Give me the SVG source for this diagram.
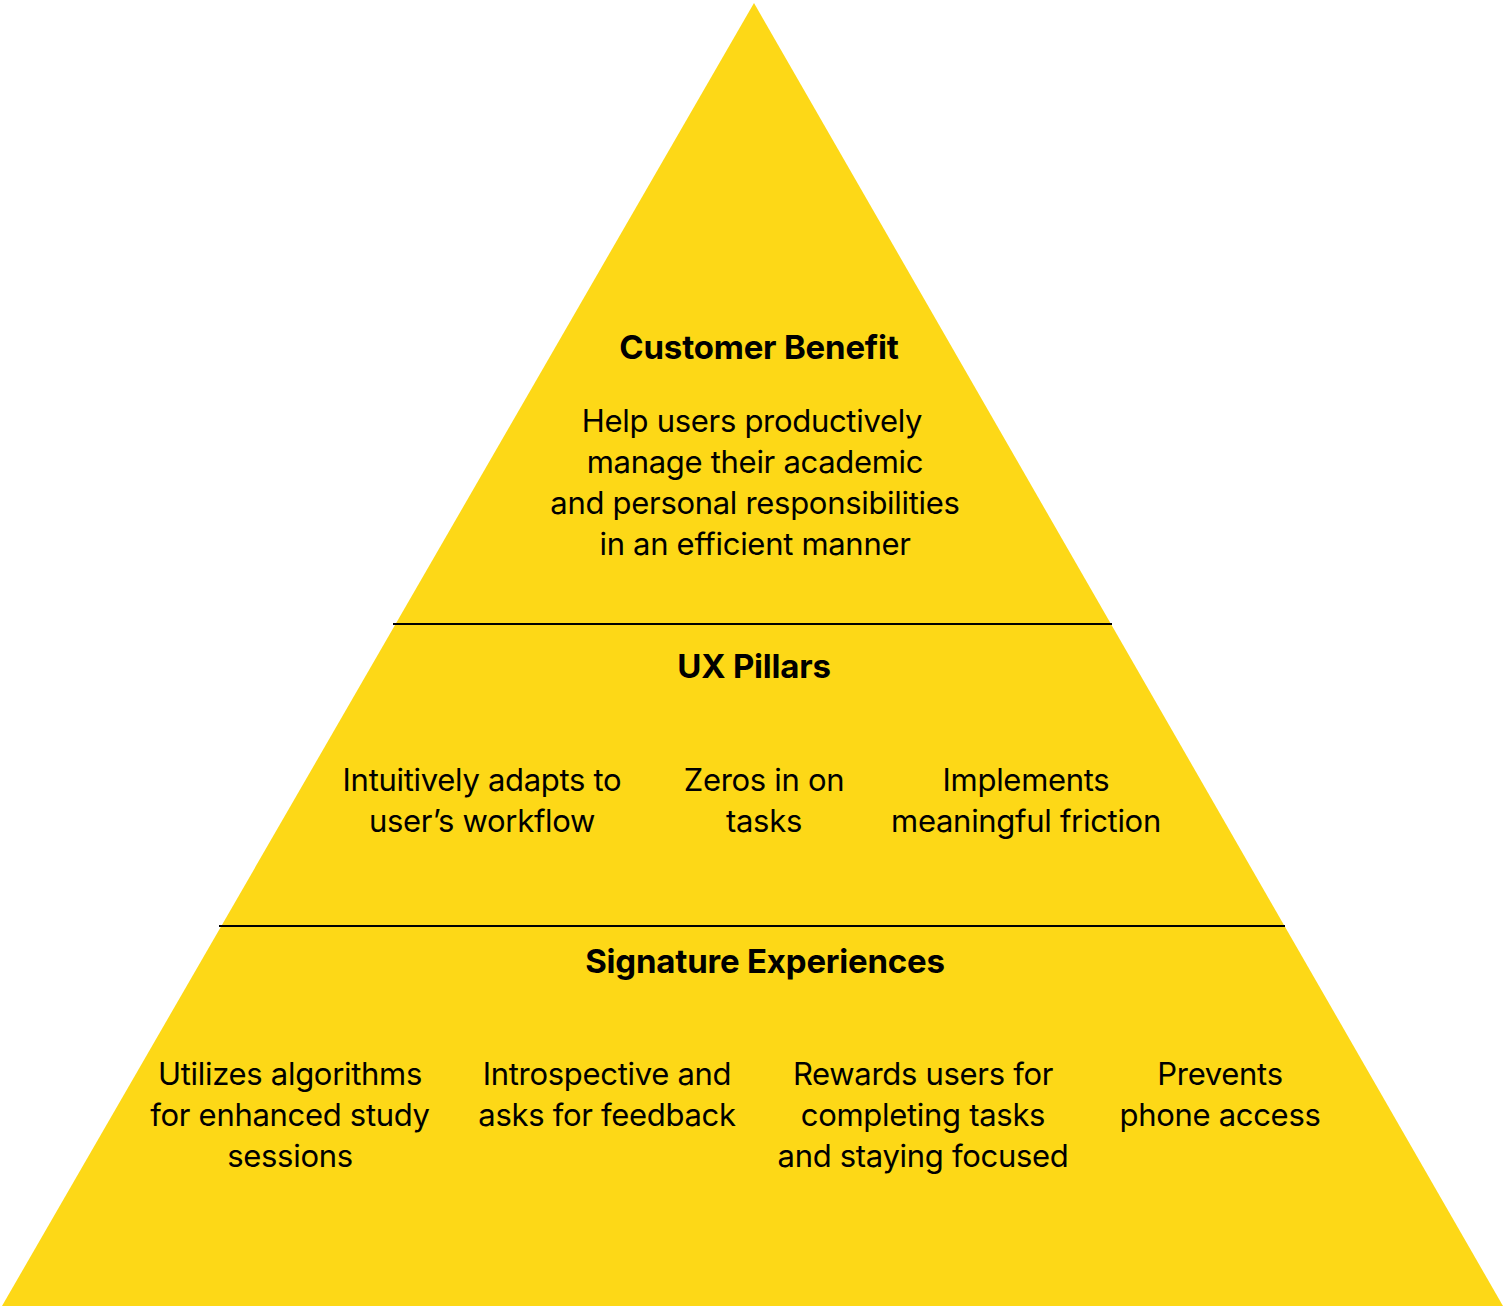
<svg xmlns="http://www.w3.org/2000/svg" width="1503" height="1306" viewBox="0 0 1503 1306">
<style>
.t{font-family:Inter,"Noto Sans",sans-serif;font-size:31px;fill:#000;text-anchor:middle;letter-spacing:-0.3px}
.h{font-family:Inter,"Noto Sans",sans-serif;font-size:33px;font-weight:700;fill:#000;text-anchor:middle;letter-spacing:-0.2px}
.sep{stroke:#000;stroke-width:2}
</style>
<rect width="1503" height="1306" fill="#fff"/>
<g id="pyramid"><polygon points="754,3 2,1306 1503,1306" fill="#FDD817"/></g>
<g id="connectors">
<line class="sep" x1="393" y1="624" x2="1112" y2="624"/>
<line class="sep" x1="219" y1="926" x2="1285" y2="926"/>
</g>
<g id="customer-benefit">
<text class="h" x="759" y="359">Customer Benefit</text>
<text class="t" x="752" y="432">Help users productively</text>
<text class="t" x="755" y="473">manage their academic</text>
<text class="t" x="755" y="514">and personal responsibilities</text>
<text class="t" x="755" y="555">in an efficient manner</text>
</g>
<g id="ux-pillars">
<text class="h" x="754" y="678">UX Pillars</text>
<text class="t" x="482" y="791">Intuitively adapts to</text>
<text class="t" x="482" y="832">user’s workflow</text>
<text class="t" x="764" y="791">Zeros in on</text>
<text class="t" x="764" y="832">tasks</text>
<text class="t" x="1026" y="791">Implements</text>
<text class="t" x="1026" y="832">meaningful friction</text>
</g>
<g id="signature-experiences">
<text class="h" x="765" y="973">Signature Experiences</text>
<text class="t" x="290" y="1085">Utilizes algorithms</text>
<text class="t" x="290" y="1126">for enhanced study</text>
<text class="t" x="290" y="1167">sessions</text>
<text class="t" x="607" y="1085">Introspective and</text>
<text class="t" x="607" y="1126">asks for feedback</text>
<text class="t" x="923" y="1085">Rewards users for</text>
<text class="t" x="923" y="1126">completing tasks</text>
<text class="t" x="923" y="1167">and staying focused</text>
<text class="t" x="1220" y="1085">Prevents</text>
<text class="t" x="1220" y="1126">phone access</text>
</g>
</svg>
